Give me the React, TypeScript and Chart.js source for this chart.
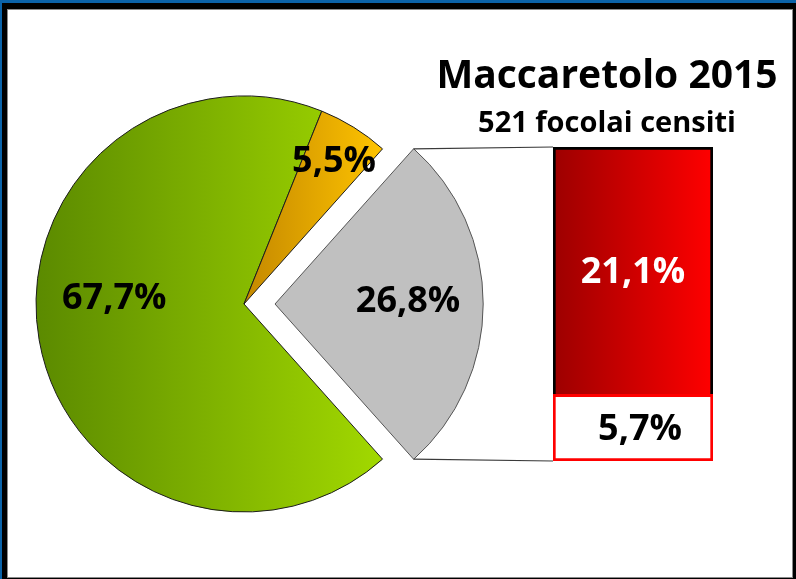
import { useEffect, useRef } from 'react';
import { Chart, registerables } from 'chart.js';

Chart.register(...registerables);

// ---- data ----
const pieCategories = ['Dettaglio', 'Categoria A', 'Categoria B'];
const pieValues = [26.8, 67.7, 5.5];
const barCategories = ['Dettaglio'];
const barSeriesNames = ['Quota inferiore', 'Quota superiore'];
const barBottomValues = [5.7];
const barTopValues = [21.1];
const titleText = 'Maccaretolo 2015';
const subtitleText = '521 focolai censiti';

// ---- style ----
const FONT = "'Open Sans', sans-serif";
const CW = 784;
const CH = 567;
const PIE_RADIUS = 208;
const PIE_OFFSET = [124, 0, 0]; // Chart.js translates an arc by offset / 4
const pieLabelRadius = [0.64, 0.625, 0.82];
const pieLabelAngleShift = [-2, 13.4, 0];

const fmt = (v: number) => v.toFixed(1).replace('.', ',') + '%';

export default function App() {
  const pieRef = useRef<HTMLCanvasElement | null>(null);
  const barRef = useRef<HTMLCanvasElement | null>(null);

  useEffect(() => {
    if (!pieRef.current || !barRef.current) return;

    const pieFill = (c: any) => {
      const chart = c.chart;
      const ca = chart.chartArea;
      const i = c.dataIndex;
      if (i === 0) return '#c0c0c0';
      if (!ca) return i === 1 ? '#86b800' : '#f0b000';
      const cx = (ca.left + ca.right) / 2;
      const R = PIE_RADIUS;
      if (i === 1) {
        const g = chart.ctx.createLinearGradient(cx - R, 0, cx + R * 0.67, 0);
        g.addColorStop(0, '#5b8a00');
        g.addColorStop(1, '#a2d900');
        return g;
      }
      const g = chart.ctx.createLinearGradient(cx, 0, cx + R * 0.67, 0);
      g.addColorStop(0, '#c48800');
      g.addColorStop(1, '#ffc400');
      return g;
    };

    const pieLabels = {
      id: 'pieLabels',
      afterDatasetsDraw(chart: any) {
        const ctx = chart.ctx;
        const meta = chart.getDatasetMeta(0);
        ctx.save();
        ctx.font = `bold 36px ${FONT}`;
        ctx.textAlign = 'center';
        ctx.textBaseline = 'middle';
        ctx.fillStyle = '#000';
        meta.data.forEach((el: any, i: number) => {
          const p = el.getProps(['x', 'y', 'startAngle', 'endAngle', 'outerRadius'], true);
          const mid = (p.startAngle + p.endAngle) / 2;
          const off = (el.options.offset || 0) / 4;
          const cx = p.x + Math.cos(mid) * off;
          const cy = p.y + Math.sin(mid) * off;
          const a = mid + (pieLabelAngleShift[i] * Math.PI) / 180;
          const r = p.outerRadius * pieLabelRadius[i];
          ctx.fillText(fmt(pieValues[i]), cx + Math.cos(a) * r, cy + Math.sin(a) * r + 2.6);
        });
        ctx.restore();
      },
    };

    const pie = new Chart(pieRef.current, {
      type: 'pie',
      data: {
        labels: pieCategories,
        datasets: [
          {
            data: pieValues,
            backgroundColor: pieFill as any,
            borderColor: ['#555555', '#1c1c1c', '#1c1c1c'],
            borderWidth: 1,
            offset: PIE_OFFSET,
          } as any,
        ],
      },
      options: {
        responsive: false,
        animation: false,
        events: [],
        radius: PIE_RADIUS,
        rotation: 90 - (pieValues[0] / 100) * 180,
        layout: { padding: { left: 0, right: 312, top: 21, bottom: 0 } },
        plugins: { legend: { display: false }, tooltip: { enabled: false } },
      } as any,
      plugins: [pieLabels],
    });

    const total = barBottomValues[0] + barTopValues[0];

    const connectors = {
      id: 'connectors',
      beforeDatasetsDraw(chart: any) {
        const arc: any = pie.getDatasetMeta(0).data[0];
        const top: any = chart.getDatasetMeta(1).data[0];
        const bottom: any = chart.getDatasetMeta(0).data[0];
        if (!arc || !top || !bottom) return;
        const p = arc.getProps(['x', 'y', 'startAngle', 'endAngle', 'outerRadius'], true);
        const mid = (p.startAngle + p.endAngle) / 2;
        const off = (arc.options.offset || 0) / 4;
        const cx = p.x + Math.cos(mid) * off;
        const cy = p.y + Math.sin(mid) * off;
        const R = p.outerRadius;
        const t = top.getProps(['x', 'y', 'base', 'width'], true);
        const b = bottom.getProps(['x', 'y', 'base', 'width'], true);
        const left = t.x - t.width / 2;
        const ctx = chart.ctx;
        ctx.save();
        ctx.strokeStyle = '#3a3a3a';
        ctx.lineWidth = 1.2;
        ctx.beginPath();
        ctx.moveTo(cx + Math.cos(p.startAngle) * R, cy + Math.sin(p.startAngle) * R);
        ctx.lineTo(left, t.y);
        ctx.moveTo(cx + Math.cos(p.endAngle) * R, cy + Math.sin(p.endAngle) * R);
        ctx.lineTo(left, b.base);
        ctx.stroke();
        ctx.restore();
      },
    };

    const barLabels = {
      id: 'barLabels',
      afterDatasetsDraw(chart: any) {
        const ctx = chart.ctx;
        ctx.save();
        ctx.font = `bold 36px ${FONT}`;
        ctx.textAlign = 'center';
        ctx.textBaseline = 'middle';
        const sets = [
          { v: barBottomValues[0], color: '#000', el: chart.getDatasetMeta(0).data[0], dx: 7 },
          { v: barTopValues[0], color: '#fff', el: chart.getDatasetMeta(1).data[0], dx: 0 },
        ];
        sets.forEach((s) => {
          const p = s.el.getProps(['x', 'y', 'base'], true);
          ctx.fillStyle = s.color;
          ctx.fillText(fmt(s.v), p.x + s.dx, (p.y + p.base) / 2 + 2.6);
        });
        ctx.restore();
      },
    };

    const redFill = (c: any) => {
      const chart = c.chart;
      const ca = chart.chartArea;
      if (!ca) return '#d00000';
      const g = chart.ctx.createLinearGradient(ca.left, 0, ca.right, 0);
      g.addColorStop(0, '#9c0000');
      g.addColorStop(1, '#ff0000');
      return g;
    };

    const hiddenAxis = {
      display: true,
      grid: { display: false },
      border: { display: false },
      ticks: { display: false },
    };

    const bar = new Chart(barRef.current, {
      type: 'bar',
      data: {
        labels: barCategories,
        datasets: [
          {
            label: barSeriesNames[0],
            data: barBottomValues,
            backgroundColor: '#ffffff',
            borderColor: '#ff0000',
            borderWidth: 3,
            borderSkipped: false,
            categoryPercentage: 1,
            barPercentage: 1,
          },
          {
            label: barSeriesNames[1],
            data: barTopValues,
            backgroundColor: redFill as any,
            borderColor: '#000000',
            borderWidth: 3,
            borderSkipped: 'bottom',
            categoryPercentage: 1,
            barPercentage: 1,
          },
        ],
      },
      options: {
        responsive: false,
        animation: false,
        events: [],
        layout: { padding: { left: 414, right: 0, top: 0, bottom: 116 } },
        scales: {
          x: { display: false, stacked: true },
          y: {
            ...hiddenAxis,
            stacked: true,
            min: 0,
            max: total,
            position: 'left',
            afterFit: (s: any) => {
              s.width = 131;
            },
          },
          yRight: {
            ...hiddenAxis,
            type: 'linear',
            position: 'right',
            afterFit: (s: any) => {
              s.width = 79;
            },
          },
        },
        plugins: {
          legend: { display: false },
          tooltip: { enabled: false },
          title: {
            display: true,
            text: titleText,
            color: '#000',
            font: { family: FONT, size: 39, weight: 'bold', lineHeight: 1 },
            padding: { top: 47.5, bottom: 0 },
          },
          subtitle: {
            display: true,
            text: subtitleText,
            color: '#000',
            font: { family: FONT, size: 29, weight: 'bold', lineHeight: 1 },
            padding: { top: 13, bottom: 8.5 },
          },
        },
      } as any,
      plugins: [connectors, barLabels],
    });

    return () => {
      bar.destroy();
      pie.destroy();
    };
  }, []);

  return (
    <div
      style={{
        position: 'fixed',
        left: 0,
        top: 0,
        width: 796,
        height: 579,
        background: '#000',
        overflow: 'hidden',
      }}
    >
      <div style={{ position: 'absolute', left: 0, top: 0, width: 796, height: 3, background: '#0b63a9' }} />
      <div style={{ position: 'absolute', left: 0, top: 0, width: 2, height: 579, background: '#0b63a9' }} />
      <div
        style={{
          position: 'absolute',
          left: 7,
          top: 9,
          width: 786,
          height: 569,
          boxSizing: 'border-box',
          border: '1px solid #8a8a8a',
          background: '#fff',
        }}
      >
        <canvas
          ref={pieRef}
          width={CW}
          height={CH}
          style={{ position: 'absolute', left: 0, top: 0, width: CW, height: CH }}
        />
        <canvas
          ref={barRef}
          width={CW}
          height={CH}
          style={{ position: 'absolute', left: 0, top: 0, width: CW, height: CH }}
        />
      </div>
    </div>
  );
}
